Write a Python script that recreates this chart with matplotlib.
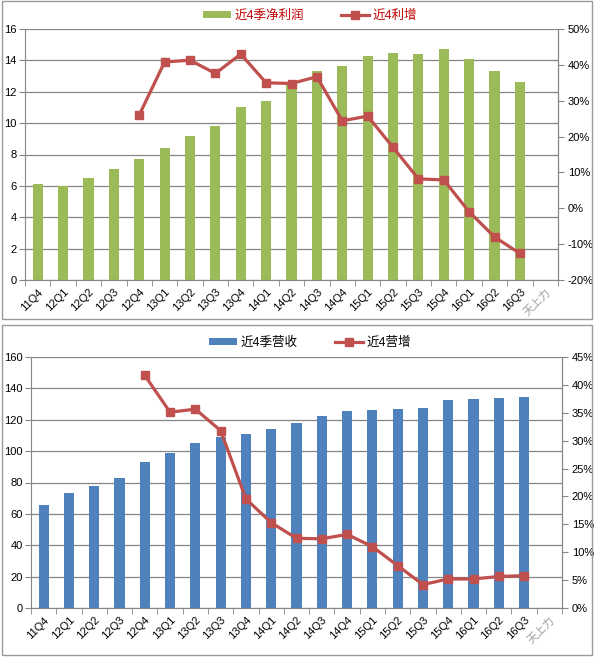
import matplotlib
matplotlib.use("Agg")
import matplotlib.pyplot as plt
from matplotlib.patches import Rectangle, Patch
from matplotlib.lines import Line2D
from matplotlib.ticker import FuncFormatter, MultipleLocator
import numpy as np

plt.rcParams['font.family'] = ['Liberation Sans', 'Noto Sans CJK SC', 'DejaVu Sans']

categories = ["11Q4", "12Q1", "12Q2", "12Q3", "12Q4", "13Q1", "13Q2", "13Q3", "13Q4", "14Q1",
              "14Q2", "14Q3", "14Q4", "15Q1", "15Q2", "15Q3", "15Q4", "16Q1", "16Q2", "16Q3", "天上力"]

profit = [6.1, 6.0, 6.5, 7.1, 7.7, 8.4, 9.2, 9.8, 11.0, 11.4,
          12.5, 13.3, 13.65, 14.27, 14.5, 14.4, 14.7, 14.1, 13.3, 12.6]
profit_growth = [None, None, None, None, 26.0, 40.8, 41.3, 37.6, 43.0, 35.0,
                 34.8, 36.7, 24.4, 25.7, 17.0, 8.2, 7.9, -1.0, -8.0, -12.6]

revenue = [65.6, 73.3, 77.8, 82.9, 93.0, 99.0, 105.2, 108.8, 110.9, 114.1,
           117.7, 122.4, 125.6, 126.2, 126.8, 127.5, 132.6, 133.2, 133.8, 134.7]
revenue_growth = [None, None, None, None, 41.7, 35.1, 35.65, 31.8, 19.55, 15.3,
                  12.5, 12.4, 13.2, 11.0, 7.6, 4.2, 5.2, 5.2, 5.65, 5.8]

GREEN = "#9BBB59"
BLUE = "#4F81BD"
RED = "#C0504D"
GRID = "#868686"

fig = plt.figure(figsize=(5.95, 6.57), dpi=100)
W, H = 595, 657

def frac_rect(l, t, r, b):
    return [l / W, 1 - b / H, (r - l) / W, (b - t) / H]

# panel frames
for (l, t, r, b) in [(2, 1, 592, 319), (2, 325, 592, 655)]:
    fig.patches.append(Rectangle((l / W, 1 - b / H), (r - l) / W, (b - t) / H,
                                 transform=fig.transFigure, fill=False,
                                 edgecolor="#9A9A9A", linewidth=1.0))


def draw_panel(rect, bars, bar_color, growth, ylim, ystep, y2lim, y2step,
               bar_label, line_label, legend_color, legend_y):
    ax = fig.add_axes(frac_rect(*rect))
    n = len(categories)
    x = np.arange(n)
    nb = len(bars)
    ax.bar(x[:nb], bars, width=0.4, color=bar_color, zorder=2)
    ax.set_xlim(-0.5, n - 0.5)
    ax.set_ylim(*ylim)
    ax.yaxis.set_major_locator(MultipleLocator(ystep))
    ax.grid(axis='y', color=GRID, linewidth=0.9, zorder=0)
    ax.set_axisbelow(True)
    ax.spines['top'].set_visible(False)
    for s in ['left', 'bottom', 'right']:
        ax.spines[s].set_color(GRID)
    ax.set_xticks(x)
    ax.set_xticklabels(categories, rotation=45, ha='right', rotation_mode='anchor', fontsize=8)
    ax.get_xticklabels()[-1].set_color("#A0A0A0")
    ax.tick_params(axis='x', which='major', length=0, pad=5)
    ax.set_xticks(np.arange(-0.5, n + 0.5, 1), minor=True)
    ax.tick_params(axis='x', which='minor', length=4, color=GRID, direction='out')
    ax.tick_params(axis='y', length=4, color=GRID, labelsize=8, pad=2)

    ax2 = ax.twinx()
    gx = [i for i, v in enumerate(growth) if v is not None]
    gy = [v for v in growth if v is not None]
    ax2.plot(gx, gy, color=RED, linewidth=2.3, marker='s', markersize=5.5,
             markerfacecolor=RED, markeredgecolor=RED, zorder=3)
    ax2.set_ylim(*y2lim)
    ax2.yaxis.set_major_locator(MultipleLocator(y2step))
    ax2.yaxis.set_major_formatter(FuncFormatter(lambda v, p: f"{v:.0f}%"))
    ax2.tick_params(axis='y', length=4, color=GRID, labelsize=8, pad=3)
    for s in ['top', 'left', 'bottom']:
        ax2.spines[s].set_visible(False)
    ax2.spines['right'].set_color(GRID)

    handles = [Patch(facecolor=bar_color, edgecolor='none'),
               Line2D([0], [0], color=RED, linewidth=2.3, marker='s', markersize=5.5)]
    leg = fig.legend(handles, [bar_label, line_label], loc='center',
                     bbox_to_anchor=(310 / W, 1 - legend_y / H), ncol=2, frameon=False,
                     fontsize=9, handlelength=2.2, handleheight=0.5, columnspacing=3.0,
                     handletextpad=0.3)
    for t in leg.get_texts():
        t.set_color(legend_color)
    return ax, ax2

draw_panel((25, 29, 558, 280), profit, GREEN, profit_growth, (0, 16), 2, (-20, 50), 10,
           "近4季净利润", "近4利增", "#C00000", 16)
draw_panel((31, 357, 562, 608), revenue, BLUE, revenue_growth, (0, 160), 20, (0, 45), 5,
           "近4季营收", "近4营增", "#000000", 343)

fig.savefig("out.png", dpi=100)
